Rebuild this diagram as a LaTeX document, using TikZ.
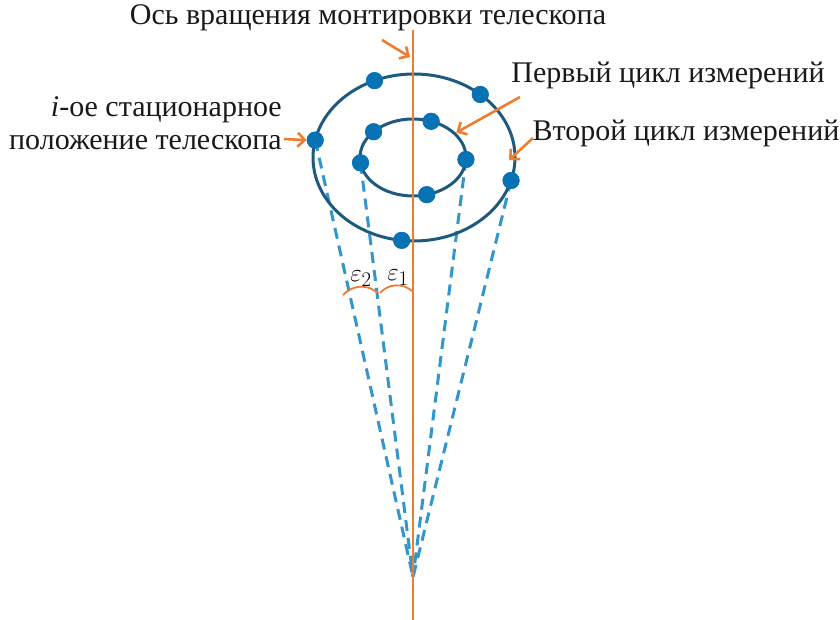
\documentclass[tikz,border=0pt]{standalone}
\usepackage{fontspec}
\setmainfont{Liberation Serif}
\usepackage{tikz}
\usetikzlibrary{arrows.meta, shapes.geometric, calc}

\definecolor{axisorange}{RGB}{237,125,49}
\definecolor{ringblue}{RGB}{30,90,125}
\definecolor{spotblue}{RGB}{8,115,180}
\definecolor{rayblue}{RGB}{50,150,205}

\begin{document}
\begin{tikzpicture}[
  x=1pt, y=1pt,
  caption/.style={font=\fontsize{30}{33}\selectfont, text=black!90, inner sep=0pt},
  ring/.style={draw=ringblue, line width=3pt, ellipse, inner sep=0pt},
  spot/.style={circle, fill=spotblue, minimum size=17pt, inner sep=0pt},
  ray/.style={rayblue, line width=3pt, dash pattern=on 11pt off 7pt},
  pointer/.style={-{Straight Barb[length=7pt, width=14pt]}, axisorange, line width=2.6pt},
  angarc/.style={axisorange, line width=1.8pt}
]
\useasboundingbox (0,0) rectangle (840,620);

\coordinate (oc)   at (414,462.5);
\coordinate (ic)   at (413,462.5);
\coordinate (apex) at (413,43);
\coordinate (top)  at (413,590);
\coordinate (bot)  at (413,0);

%% Positions of the telescope on both cycles
\node[spot] (o1) at ($(oc)+(113:101 and 83.5)$) {};
\node[spot] (o2) at ($(oc)+(49:101 and 83.5)$)  {};
\node[spot] (o3) at ($(oc)+(168:101 and 83.5)$) {};
\node[spot] (o4) at ($(oc)+(-16:101 and 83.5)$) {};
\node[spot] (o5) at ($(oc)+(263:101 and 83.5)$) {};
\node[spot] (i1) at ($(ic)+(138:53 and 38.5)$)  {};
\node[spot] (i2) at ($(ic)+(70:53 and 38.5)$)   {};
\node[spot] (i3) at ($(ic)+(188:53 and 38.5)$)  {};
\node[spot] (i4) at ($(ic)+(-3:53 and 38.5)$)   {};
\node[spot] (i5) at ($(ic)+(-75:53 and 38.5)$)  {};

%% Cone of sight lines
\draw[ray] (o3.center) -- (apex);
\draw[ray] (i3.center) -- (apex);
\draw[ray] (i4.center) -- (apex);
\draw[ray] (o4.center) -- (apex);

\node[ring, minimum width=202pt, minimum height=167pt] (outer) at (oc) {};
\node[ring, minimum width=106pt, minimum height=77pt]  (inner) at (ic) {};

\foreach \s in {o1,o2,o3,o4,o5,i1,i2,i3,i4,i5}
  \node[spot] at (\s) {};

\draw[axisorange, line width=2.6pt] (top) -- (bot);

%% Angles
\draw[angarc] (343,325) to[bend left=45] (378,327);
\draw[angarc] (380,327) to[bend left=45] (412,329);
\node (eps2) at (361,341) {\fontsize{31}{34}\selectfont $\varepsilon_2$};
\node (eps1) at (398,342) {\fontsize{31}{34}\selectfont $\varepsilon_1$};

%% Captions
\node[caption] (axislbl) at (368,602) {Ось вращения монтировки телескопа};
\node[caption] (firstlbl) at (668,545) {Первый цикл измерений};
\node[caption] (secondlbl) at (686,487) {Второй цикл измерений};
\node[caption, align=right, anchor=east] (poslbl) at (282,497)
  {\textit{i}-ое стационарное\\положение телескопа};

\coordinate (a1) at (382,580);
\coordinate (a1e) at (410,563);
\coordinate (a2) at (284,481);
\coordinate (a3) at (520,523);
\coordinate (a3e) at ($(ic)+(38:55 and 40.5)$);
\coordinate (a4) at (533,482);
\coordinate (a4e) at (509,460);

\draw[pointer] (a1) -- (a1e);
\draw[pointer] (a2) -- (o3.west);
\draw[pointer] (a3) -- (a3e);
\draw[pointer] (a4) -- (a4e);

\end{tikzpicture}
\end{document}
